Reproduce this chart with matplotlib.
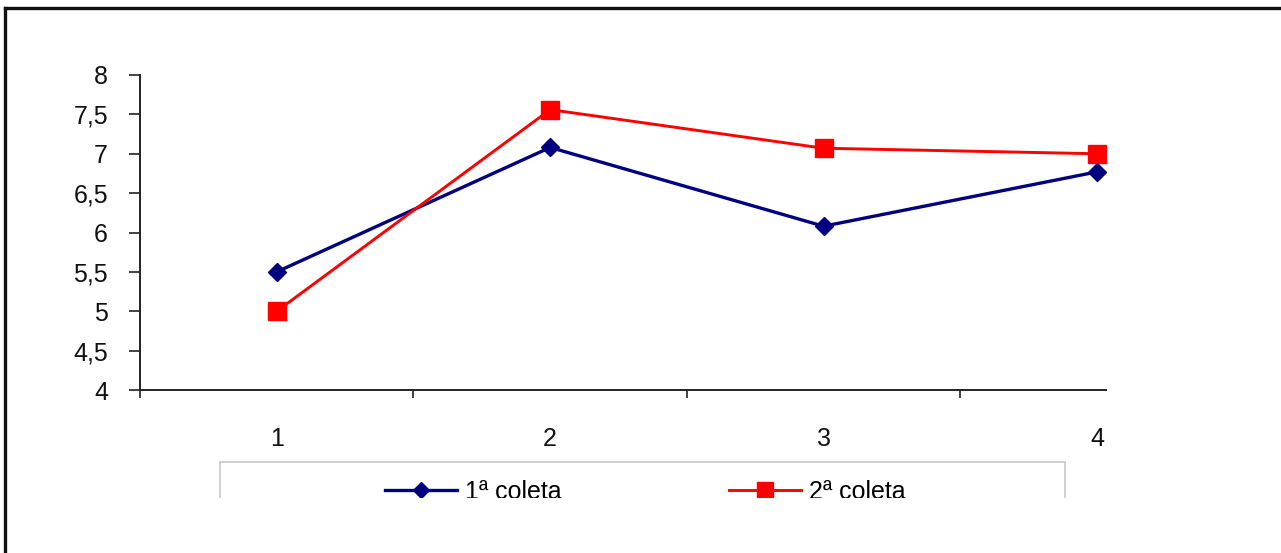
import matplotlib
matplotlib.use("Agg")
import matplotlib.pyplot as plt
from matplotlib.patches import Rectangle
from matplotlib.lines import Line2D
from matplotlib.ticker import FuncFormatter

# data
categorias = [1, 2, 3, 4]
coleta1 = [5.5, 7.08, 6.08, 6.77]
coleta2 = [5.0, 7.56, 7.07, 7.0]
nomes = ["1ª coleta", "2ª coleta"]

plt.rcParams['font.family'] = ['Liberation Sans', 'DejaVu Sans']

W, H = 1281, 553
fig = plt.figure(figsize=(W / 100, H / 100), dpi=100)
fig.patch.set_facecolor("white")

def px(x0, y0, x1, y1):
    # pixel box (from top-left) -> figure fraction [left, bottom, width, height]
    return [x0 / W, 1 - y1 / H, (x1 - x0) / W, (y1 - y0) / H]

ax = fig.add_axes(px(140, 75, 1106, 390))

l1, = ax.plot(categorias, coleta1, color="#000080", lw=2.4, marker="D",
              markersize=9, label=nomes[0])
l2, = ax.plot(categorias, coleta2, color="#ff0000", lw=2.1, marker="s",
              markersize=13, label=nomes[1])

ax.set_xlim(0.5, 0.5 + (1106 - 140.5) / 273.3)
ax.set_ylim(4, 8)
ax.set_yticks([4 + 0.5 * i for i in range(9)])
ax.yaxis.set_major_formatter(FuncFormatter(lambda v, p: ("%g" % v).replace(".", ",")))

# category ticks sit between the categories, labels on the categories
ax.set_xticks([0.5, 1.5, 2.5, 3.5])
ax.set_xticklabels([])
ax.set_xticks(categorias, minor=True)
ax.set_xticklabels([str(c) for c in categorias], minor=True)
ax.tick_params(axis="x", which="major", direction="out", length=6, width=1.2, colors="#222222")
ax.tick_params(axis="x", which="minor", length=0, pad=27, labelsize=18, labelcolor="#111111")
ax.tick_params(axis="y", direction="out", length=8, width=1.2, pad=15,
               labelsize=18, colors="#222222", labelcolor="#111111")

for s in ["top", "right"]:
    ax.spines[s].set_visible(False)
for s in ["left", "bottom"]:
    ax.spines[s].set_linewidth(1.4)
    ax.spines[s].set_color("#222222")

# legend frame and entries
fig.add_artist(Rectangle((220 / W, 1 - 540 / H), 845 / W, 78 / H,
                         transform=fig.transFigure, fill=False,
                         edgecolor="#c8c8c8", lw=1.2, zorder=3))
fig.legend(handles=[l1, l2], loc="center", bbox_to_anchor=(645 / W, 1 - 492 / H),
           ncol=2, frameon=False, fontsize=18, handlelength=2.9,
           handletextpad=0.3, columnspacing=6.7, markerscale=0.85)

# the bottom of the chart is cut off
fig.add_artist(Rectangle((9 / W, 0), 1, (553 - 498) / H, transform=fig.transFigure,
                         facecolor="white", edgecolor="none", zorder=20))

# outer chart border (top and left only)
fig.add_artist(Line2D([5 / W, 1], [1 - 8 / H, 1 - 8 / H], transform=fig.transFigure,
                      color="#111111", lw=2.4, zorder=21))
fig.add_artist(Line2D([5 / W, 5 / W], [0, 1 - 8 / H], transform=fig.transFigure,
                      color="#111111", lw=2.4, zorder=21))

fig.savefig("out.png", dpi=100)
